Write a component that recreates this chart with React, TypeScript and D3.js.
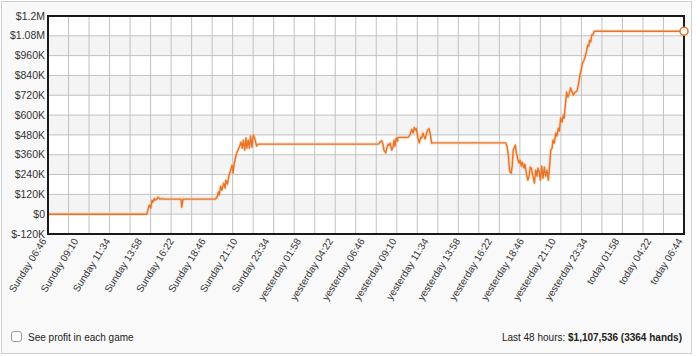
import React from "react";
import * as d3 from "d3";

// minutes since Sunday 06:46
const timeMinutes = [
  0, 447, 458, 465, 471, 475, 481, 484, 492, 498, 507, 516, 525, 602, 605, 611,
  756, 765, 771, 775, 781, 787, 795, 801, 805, 812, 819, 827, 833, 837, 843, 849,
  855, 860, 869, 873, 879, 884, 890, 896, 900, 906, 911, 917, 923, 929, 935, 944,
  950, 1495, 1502, 1510, 1516, 1520, 1528, 1534, 1539, 1544, 1549, 1555, 1561, 1566,
  1570, 1576, 1581, 1584, 1629, 1638, 1646, 1652, 1658, 1662, 1667, 1674, 1680, 1687,
  1691, 1697, 1701, 1707, 1712, 1718, 1724, 1730, 1736, 1742, 2071, 2077, 2083, 2089,
  2096, 2101, 2105, 2109, 2115, 2119, 2125, 2131, 2136, 2142, 2146, 2154, 2158, 2164,
  2171, 2177, 2182, 2187, 2201, 2207, 2213, 2217, 2223, 2228, 2234, 2240, 2246, 2252,
  2258, 2264, 2268, 2275, 2281, 2285, 2291, 2297, 2303, 2309, 2314, 2320, 2326, 2332,
  2336, 2341, 2347, 2353, 2359, 2365, 2377, 2385, 2394, 2400, 2407, 2413, 2418, 2424,
  2430, 2436, 2442, 2447, 2451, 2456, 2460, 2466, 2472, 2878,
];
// cumulative profit in $K
const profitK = [
  0, 0, 55, 36, 85, 73, 95, 85, 91, 103, 91, 94, 91, 91, 42, 91,
  91, 103, 135, 115, 170, 145, 188, 158, 206, 182, 236, 267, 297, 248, 309, 345,
  376, 388, 418, 436, 400, 448, 388, 461, 400, 448, 400, 473, 406, 479, 461, 412,
  424, 424, 436, 444, 424, 388, 371, 406, 424, 418, 430, 388, 406, 448,
  412, 461, 442, 465, 465, 479, 515, 491, 525, 509, 519, 461, 432, 467,
  461, 491, 473, 456, 485, 509, 518, 485, 430, 432, 432, 412, 358, 261,
  248, 297, 388, 400, 418, 376, 339, 309, 327, 291, 315, 279, 303, 255,
  206, 230, 285, 279, 188, 267, 230, 279, 255, 206, 291, 218, 285, 230,
  267, 206, 261, 388, 400, 448, 430, 491, 473, 521, 503, 582, 558, 600,
  582, 660, 739, 709, 733, 764, 721, 739, 745, 782, 842, 873, 915, 927,
  951, 982, 1024, 1018, 1054, 1042, 1085, 1085, 1108, 1107.536,
];

const yTickValues = [-120, 0, 120, 240, 360, 480, 600, 720, 840, 960, 1080, 1200];
const yTickLabels = ["$-120K", "$0", "$120K", "$240K", "$360K", "$480K", "$600K", "$720K", "$840K", "$960K", "$1.08M", "$1.2M"];

const xTickMinutes = [0, 144, 288, 432, 576, 720, 864, 1008, 1152, 1296, 1440, 1584, 1728, 1872, 2016, 2160, 2304, 2448, 2592, 2736, 2878];
const xTickLabels = [
  "Sunday 06:46", "Sunday 09:10", "Sunday 11:34", "Sunday 13:58", "Sunday 16:22",
  "Sunday 18:46", "Sunday 21:10", "Sunday 23:34", "yesterday 01:58", "yesterday 04:22",
  "yesterday 06:46", "yesterday 09:10", "yesterday 11:34", "yesterday 13:58", "yesterday 16:22",
  "yesterday 18:46", "yesterday 21:10", "yesterday 23:34", "today 01:58", "today 04:22", "today 06:44",
];

const W = 700, H = 356;
const L = 48, R = 684, T = 16, B = 234;
const FONT = "'Liberation Sans', Arial, sans-serif";
const ORANGE = "#e8742a";

export default function App() {
  const x = d3.scaleLinear().domain([0, 2878]).range([L, R]);
  const y = d3.scaleLinear().domain([-120, 1200]).range([B, T]);
  const pts = timeMinutes.map((t, i) => [t, profitK[i]] as [number, number]);
  const line = d3.line<[number, number]>().x((d) => x(d[0])).y((d) => y(d[1]))(pts) || "";
  const vGrid = d3.range(32).map((k) => L + ((R - L) * k) / 31);
  const last = pts[pts.length - 1];

  return (
    <svg width={W} height={H} style={{ position: "absolute", left: 0, top: 0, display: "block" }}>
      <rect x={1.5} y={1.5} width={690} height={352} fill="#f9f9f9" stroke="#cfcfcf" />
      <rect x={L} y={T} width={R - L} height={B - T} fill="#ffffff" />
      {yTickValues.slice(0, -1).map((v, i) => {
        const top = y(yTickValues[i + 1]);
        const bot = y(v);
        const fromTop = yTickValues.length - 2 - i;
        return fromTop % 2 === 1 ? (
          <rect key={"b" + i} x={L} y={top} width={R - L} height={bot - top} fill="#f4f4f4" />
        ) : null;
      })}
      {yTickValues.map((v) => (
        <line key={"h" + v} x1={L} x2={R} y1={y(v)} y2={y(v)} stroke="#c2c2c2" strokeWidth={1} />
      ))}
      {vGrid.map((gx, i) => (
        <line key={"v" + i} x1={gx} x2={gx} y1={T} y2={B} stroke="#c2c2c2" strokeWidth={1} />
      ))}
      <path d={line} fill="none" stroke="#f6c7a3" strokeWidth={3.2} strokeOpacity={0.55} strokeLinejoin="round" />
      <path d={line} fill="none" stroke={ORANGE} strokeWidth={1.4} strokeLinejoin="round" />
      <rect x={L} y={T} width={R - L} height={B - T} fill="none" stroke="#1a1a1a" strokeWidth={2} />
      <circle cx={x(last[0])} cy={y(last[1])} r={4} fill="#ffffff" stroke={ORANGE} strokeWidth={1.5} />
      {yTickValues.map((v, i) => (
        <text key={"yt" + v} x={45} y={y(v)} dy="0.35em" textAnchor="end" fontFamily={FONT} fontSize={10.5} fill="#333">
          {yTickLabels[i]}
        </text>
      ))}
      {xTickMinutes.map((m, i) => (
        <text
          key={"xt" + i}
          transform={`translate(${x(m) - 1},${B + 7}) rotate(-58)`}
          textAnchor="end"
          fontFamily={FONT}
          fontSize={10}
          fill="#333"
        >
          {xTickLabels[i]}
        </text>
      ))}
      <rect x={11.5} y={331.5} width={10} height={10} rx={2.5} fill="#ffffff" stroke="#9a9a9a" />
      <text x={28} y={340.5} fontFamily={FONT} fontSize={10} fill="#222">See profit in each game</text>
      <text x={682} y={340.5} textAnchor="end" fontFamily={FONT} fontSize={10} fill="#222">
        Last 48 hours: <tspan fontWeight="bold">$1,107,536 (3364 hands)</tspan>
      </text>
    </svg>
  );
}
